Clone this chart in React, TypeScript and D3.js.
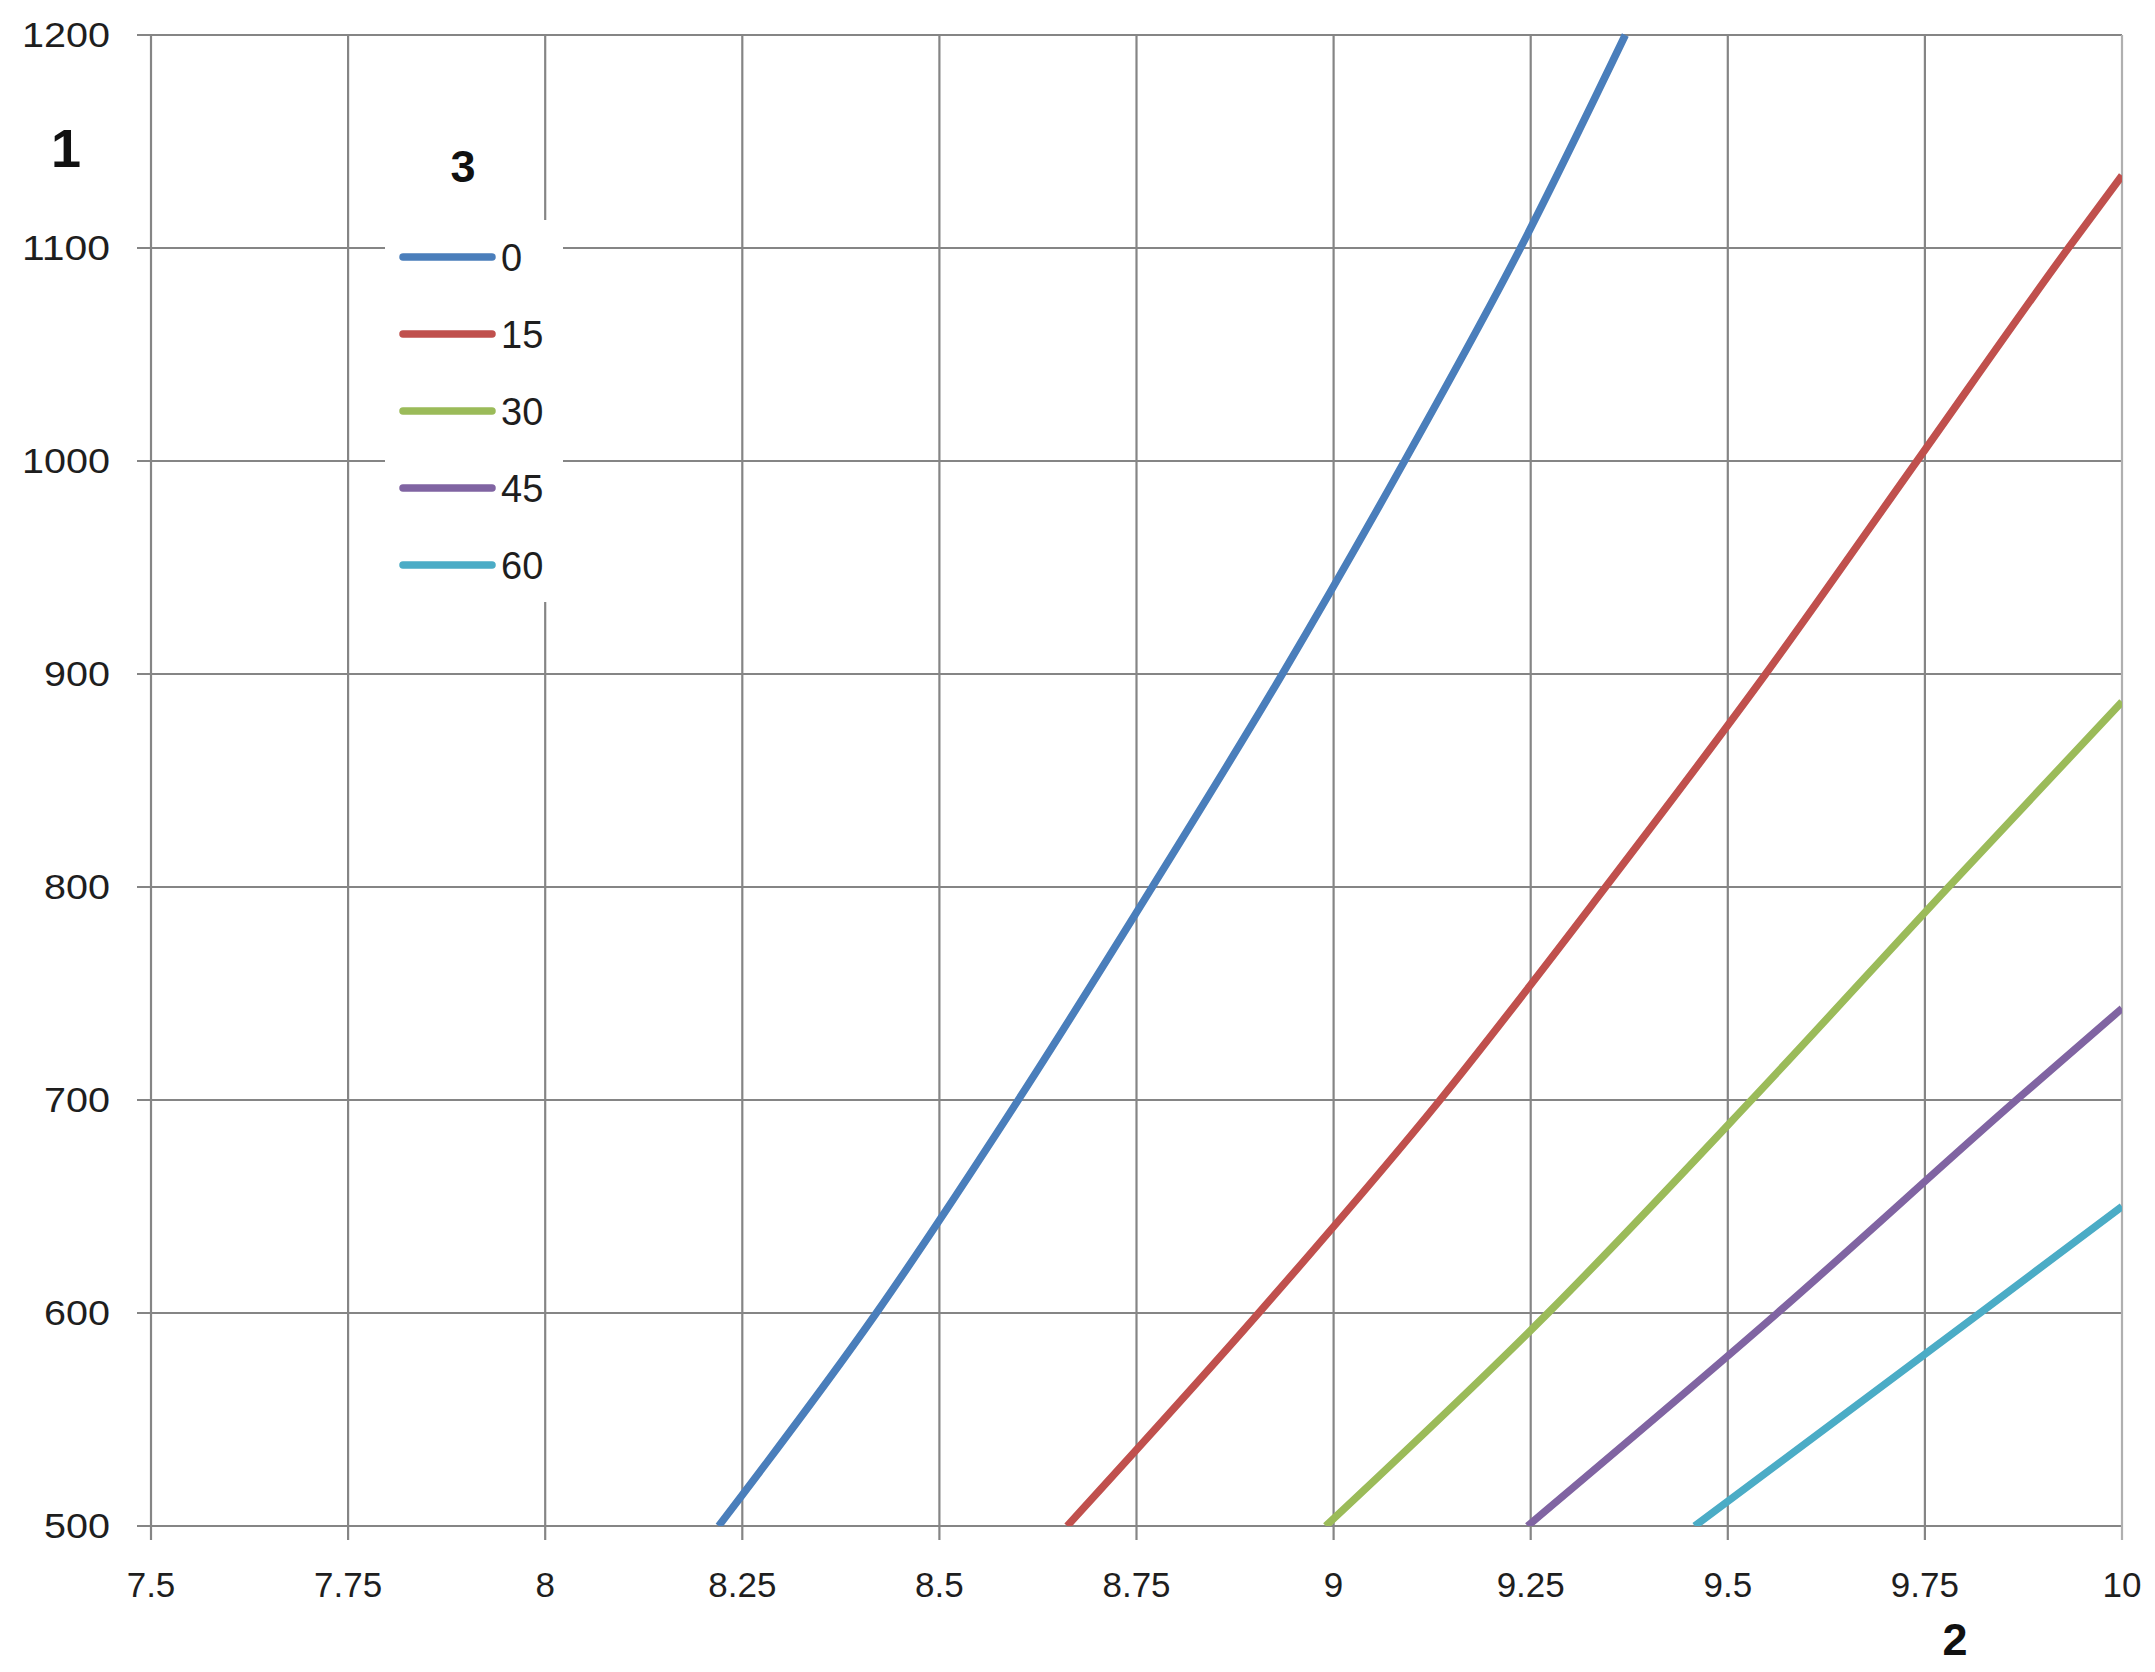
import React from "react";
import * as d3 from "d3";

const xTicks = [7.5, 7.75, 8, 8.25, 8.5, 8.75, 9, 9.25, 9.5, 9.75, 10];
const yTicks = [500, 600, 700, 800, 900, 1000, 1100, 1200];

const seriesNames = ["0", "15", "30", "45", "60"];
const seriesColors = ["#4a7ebb", "#c0504d", "#9bbb59", "#8064a2", "#4bacc6"];

const s0x = [8.22, 8.42, 8.6, 8.77, 8.935, 9.09, 9.237, 9.37];
const s0y = [500, 600, 700, 800, 900, 1000, 1100, 1200];

const s1x = [8.662, 8.905, 9.135, 9.345, 9.548, 9.74, 9.932, 10];
const s1y = [500, 600, 700, 800, 900, 1000, 1100, 1134];

const s2x = [8.99, 9.272, 9.53, 9.78, 10];
const s2y = [500, 600, 700, 800, 887];

const s3x = [9.246, 9.563, 9.866, 10];
const s3y = [500, 600, 700, 743];

const s4x = [9.458, 9.82, 10];
const s4y = [500, 600, 650];

const seriesX = [s0x, s1x, s2x, s3x, s4x];
const seriesY = [s0y, s1y, s2y, s3y, s4y];

const W = 2155;
const H = 1672;
const L = 151, R = 2122, T = 35, B = 1526;
const FONT = "'Liberation Sans', Arial, sans-serif";

export default function App() {
  const x = d3.scaleLinear().domain([7.5, 10]).range([L, R]);
  const y = d3.scaleLinear().domain([500, 1200]).range([B, T]);
  const line = d3
    .line<[number, number]>()
    .x((d) => x(d[0]))
    .y((d) => y(d[1]))
    .curve(d3.curveMonotoneX);

  const gridColor = "#858585";

  return (
    <svg
      width={W}
      height={H}
      style={{ position: "absolute", left: 0, top: 0, background: "#fff" }}
    >
      <rect x={0} y={0} width={W} height={H} fill="#fff" />
      <defs>
        <clipPath id="plot">
          <rect x={L} y={T - 4} width={R - L} height={B - T + 4} />
        </clipPath>
      </defs>
      {yTicks.map((t) => (
        <line
          key={"h" + t}
          x1={L - 14}
          x2={R}
          y1={y(t)}
          y2={y(t)}
          stroke={gridColor}
          strokeWidth={2.2}
        />
      ))}
      {xTicks.map((t) => (
        <line
          key={"v" + t}
          x1={x(t)}
          x2={x(t)}
          y1={T}
          y2={B + 14}
          stroke={t === 10 ? "#b0b0b0" : gridColor}
          strokeWidth={2.2}
        />
      ))}
      {yTicks.map((t) => (
        <text
          key={"yl" + t}
          x={110}
          y={y(t) + 12}
          textAnchor="end"
          fontFamily={FONT}
          fontSize={35}
          fill="#1e1e1e"
          textLength={String(t).length * 22}
          lengthAdjust="spacingAndGlyphs"
        >
          {t}
        </text>
      ))}
      {xTicks.map((t) => (
        <text
          key={"xl" + t}
          x={x(t)}
          y={1597}
          textAnchor="middle"
          fontFamily={FONT}
          fontSize={35}
          fill="#1e1e1e"
        >
          {String(t)}
        </text>
      ))}
      <g clipPath="url(#plot)">
        {seriesX.map((xs, i) => (
          <path
            key={"s" + i}
            d={line(xs.map((v, j) => [v, seriesY[i][j]] as [number, number])) || ""}
            fill="none"
            stroke={seriesColors[i]}
            strokeWidth={7.5}
            strokeLinejoin="round"
          />
        ))}
      </g>
      <text x={66} y={167} textAnchor="middle" fontFamily={FONT} fontSize={54} fontWeight="bold" fill="#111">
        1
      </text>
      <text x={1955} y={1655} textAnchor="middle" fontFamily={FONT} fontSize={45} fontWeight="bold" fill="#111">
        2
      </text>
      <rect x={385} y={220} width={178} height={382} fill="#fff" />
      <text x={463} y={182} textAnchor="middle" fontFamily={FONT} fontSize={45} fontWeight="bold" fill="#111">
        3
      </text>
      {seriesNames.map((n, i) => {
        const ly = 257 + i * 77;
        return (
          <g key={"lg" + i}>
            <line
              x1={403}
              x2={492}
              y1={ly}
              y2={ly}
              stroke={seriesColors[i]}
              strokeWidth={7.5}
              strokeLinecap="round"
            />
            <text x={501} y={ly + 14} fontFamily={FONT} fontSize={38} fill="#1e1e1e">
              {n}
            </text>
          </g>
        );
      })}
    </svg>
  );
}
